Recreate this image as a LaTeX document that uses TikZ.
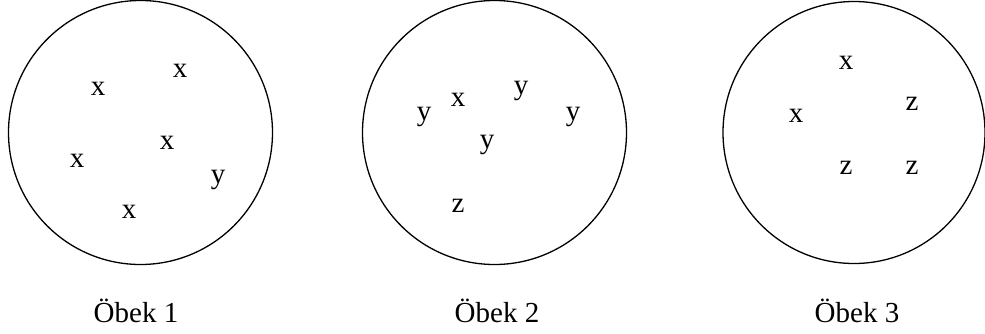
\documentclass[tikz,border=0pt]{standalone}
\usepackage{fontspec}
\setmainfont{Liberation Serif}
\begin{document}
\begin{tikzpicture}[x=1pt,y=-1pt,
  cluster/.style={draw=black,line width=1.3pt,circle,minimum size=264pt,inner sep=0pt},
  item/.style={font=\fontsize{29}{32}\selectfont,inner sep=0pt},
  caption/.style={font=\fontsize{29}{32}\selectfont,inner sep=0pt,anchor=base}]
\useasboundingbox (0,0) rectangle (985,333);
\node[cluster] (c1) at (140.5,132.5) {};
\node[cluster] (c2) at (494.5,132.5) {};
\node[cluster,minimum size=262pt] (c3) at (854,132.5) {};
\node[caption] (l1) at (136,322) {Öbek 1};
\node[caption] (l2) at (497,322) {Öbek 2};
\node[caption] (l3) at (857,322) {Öbek 3};
% cluster 1
\node[item] (a1) at (98,89) {x};
\node[item] (a2) at (180,71) {x};
\node[item] (a3) at (77,161) {x};
\node[item] (a4) at (167,143) {x};
\node[item] (a5) at (218,180) {y};
\node[item] (a6) at (129,212) {x};
% cluster 2
\node[item] (b1) at (458,100) {x};
\node[item] (b2) at (521,91) {y};
\node[item] (b3) at (424,117) {y};
\node[item] (b4) at (573,117) {y};
\node[item] (b5) at (487,145) {y};
\node[item] (b6) at (458,206) {z};
% cluster 3
\node[item] (d1) at (846,63) {x};
\node[item] (d2) at (796,116) {x};
\node[item] (d3) at (912,104) {z};
\node[item] (d4) at (846,168) {z};
\node[item] (d5) at (912,168) {z};
\end{tikzpicture}
\end{document}
